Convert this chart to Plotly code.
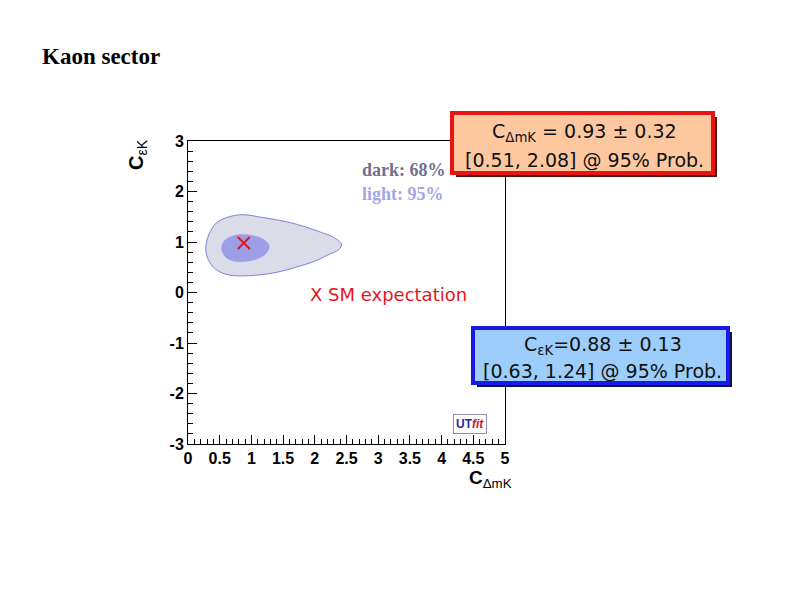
import plotly.graph_objects as go

# contour boundaries (C_dmK, C_eK)
outer_x = [0.28, 0.33, 0.45, 0.65, 0.87, 1.20, 1.56, 1.85, 2.08, 2.30, 2.42, 2.38,
           2.20, 2.00, 1.70, 1.40, 1.14, 0.77, 0.55, 0.40, 0.31, 0.28]
outer_y = [0.88, 1.15, 1.38, 1.50, 1.54, 1.48, 1.40, 1.30, 1.20, 1.09, 0.96, 0.85,
           0.74, 0.62, 0.50, 0.40, 0.35, 0.33, 0.38, 0.50, 0.68, 0.88]
inner_x = [0.53, 0.57, 0.68, 0.85, 1.02, 1.18, 1.27, 1.28, 1.22, 1.08, 0.88, 0.70, 0.58, 0.53]
inner_y = [0.88, 1.02, 1.11, 1.15, 1.13, 1.06, 0.96, 0.88, 0.76, 0.66, 0.61, 0.63, 0.72, 0.88]
sm_x = [0.88]
sm_y = [0.98]

x_ticks = [0, 0.5, 1, 1.5, 2, 2.5, 3, 3.5, 4, 4.5, 5]
y_ticks = [-3, -2, -1, 0, 1, 2, 3]

W, H = 794, 595
OFF = 8  # page body margin of the html
L, R, T, B = 188, 505, 141, 444  # plot frame on screen


# screen pixel -> paper (plot area) coordinates
def px(x):
    return (x - L) / (R - L)


def py(y):
    return (B - y) / (B - T)


fig = go.Figure()
fig.add_trace(go.Scatter(x=outer_x, y=outer_y, mode='lines', fill='toself',
                         fillcolor='#dcdce9', line=dict(color='#7f84d4', width=1, shape='spline'),
                         showlegend=False, hoverinfo='skip'))
fig.add_trace(go.Scatter(x=inner_x, y=inner_y, mode='lines', fill='toself',
                         fillcolor='#9c9fe6', line=dict(color='#9c9fe6', width=0.5, shape='spline'),
                         showlegend=False, hoverinfo='skip'))
fig.add_trace(go.Scatter(x=sm_x, y=sm_y, mode='markers',
                         marker=dict(symbol='x-thin', size=12, line=dict(width=2, color='#e4141e')),
                         showlegend=False))

axis_common = dict(showline=True, linecolor='black', linewidth=1, mirror=True,
                   ticks='inside', ticklen=9, tickcolor='black', showgrid=False, zeroline=False,
                   ticklabelstandoff=0,
                   tickfont=dict(family='Liberation Sans', size=16, color='black', weight='bold'))
fig.update_xaxes(range=[0, 5], tickvals=x_ticks, ticktext=[f'{v:g}' for v in x_ticks],
                 minor=dict(ticks='inside', ticklen=5, dtick=0.1, tickcolor='black'),
                 **axis_common)
fig.update_yaxes(range=[-3, 3], tickvals=y_ticks, ticktext=[f'{v:g}' for v in y_ticks],
                 minor=dict(ticks='inside', ticklen=5, dtick=0.2, tickcolor='black'),
                 **axis_common)

shapes = []
annotations = []

# result boxes: (x0, y0, x1, y1, fill, border, shadow, line1, line2)
boxes = [
    (452, 113, 713, 173, '#fdc8a0', '#e81414', '#5a1010',
     'C<sub>ΔmK</sub> = 0.93 ± 0.32', '[0.51, 2.08] @ 95% Prob.'),
    (473, 328, 728, 383, '#9ccdfb', '#1a1ae6', '#101050',
     'C<sub>εK</sub>=0.88 ± 0.13', '[0.63, 1.24] @ 95% Prob.'),
]
for x0, y0, x1, y1, fill, border, shadow, l1, l2 in boxes:
    shapes.append(dict(type='rect', xref='paper', yref='paper', layer='above',
                       x0=px(x0 + 4), x1=px(x1 + 4), y0=py(y0 + 4), y1=py(y1 + 4),
                       fillcolor=shadow, line=dict(width=0)))
    shapes.append(dict(type='rect', xref='paper', yref='paper', layer='above',
                       x0=px(x0), x1=px(x1), y0=py(y0), y1=py(y1),
                       fillcolor=fill, line=dict(color=border, width=4)))
    cx = (x0 + x1) / 2 + 2
    h = y1 - y0
    for txt, yy in [(l1, y0 + h * 0.32), (l2, y0 + h * 0.78)]:
        annotations.append(dict(xref='paper', yref='paper', x=px(cx), y=py(yy),
                                text=txt, showarrow=False, xanchor='center', yanchor='middle',
                                font=dict(family='DejaVu Sans', size=19, color='#111111')))

annotations += [
    dict(xref='paper', yref='paper', x=px(40), y=py(57), text='<b>Kaon sector</b>',
         showarrow=False, xanchor='left', yanchor='middle',
         font=dict(family='Liberation Serif', size=23, color='black')),
    dict(xref='paper', yref='paper', x=px(360), y=py(170), text='<b>dark: 68%</b>',
         showarrow=False, xanchor='left', yanchor='middle',
         font=dict(family='Liberation Serif', size=18, color='#70708f')),
    dict(xref='paper', yref='paper', x=px(360), y=py(194), text='<b>light: 95%</b>',
         showarrow=False, xanchor='left', yanchor='middle',
         font=dict(family='Liberation Serif', size=18, color='#a4a6e6')),
    dict(xref='paper', yref='paper', x=px(308), y=py(294), text='X SM expectation',
         showarrow=False, xanchor='left', yanchor='middle',
         font=dict(family='DejaVu Sans', size=18, color='#e4141e')),
    dict(xref='paper', yref='paper', x=px(137), y=py(155), text='<b>C</b><sub>εK</sub>',
         showarrow=False, textangle=-90, xanchor='center', yanchor='middle',
         font=dict(family='Liberation Sans', size=20, color='black')),
    dict(xref='paper', yref='paper', x=px(490), y=py(479), text='<b>C</b><sub>ΔmK</sub>',
         showarrow=False, xanchor='center', yanchor='middle',
         font=dict(family='Liberation Sans', size=19, color='black')),
    dict(xref='paper', yref='paper', x=px(470), y=py(424),
         text='<b><span style="color:#2a2a9a">UT</span><i><span style="color:#d01818">fit</span></i></b>',
         showarrow=False, xanchor='center', yanchor='middle', bgcolor='white',
         bordercolor='#9090a8', borderwidth=1, borderpad=2,
         font=dict(family='Liberation Sans', size=12)),
]

fig.update_layout(width=W, height=H,
                  margin=dict(l=L - OFF, r=W - R + OFF, t=T - OFF, b=H - B + OFF, autoexpand=False),
                  paper_bgcolor='white', plot_bgcolor='white',
                  shapes=shapes, annotations=annotations)
fig.write_html("out.html")
